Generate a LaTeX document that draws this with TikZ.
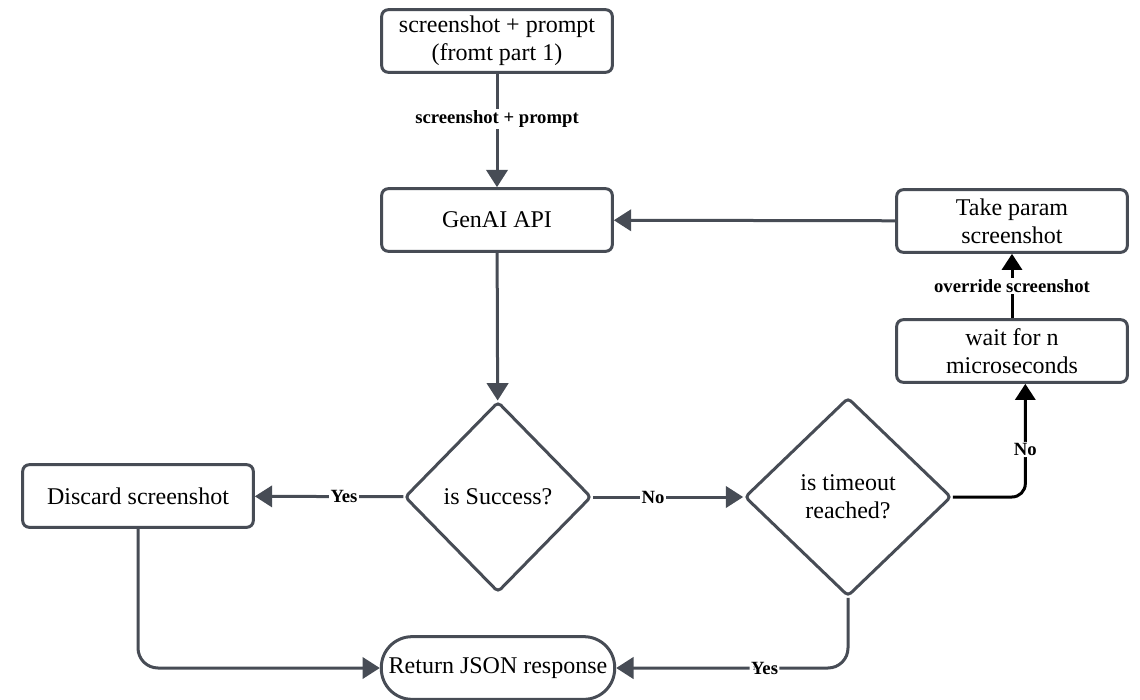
\documentclass[tikz,border=0pt]{standalone}
\usepackage{fontspec}
\setmainfont{Liberation Serif}
\usepackage{tikz}
\usetikzlibrary{arrows.meta,shapes.geometric,positioning}

\definecolor{flowgray}{HTML}{474C55}

\begin{document}
\begin{tikzpicture}[x=0.75pt,y=-0.75pt]
\tikzstyle{every node}=[font=\fontsize{18}{21}\selectfont]
\tikzstyle{proc}=[rectangle,draw=flowgray,line width=2.25pt,rounded corners=5pt,minimum width=173pt,minimum height=47pt,align=center,fill=white]
\tikzstyle{dec}=[diamond,draw=flowgray,line width=2.25pt,rounded corners=3pt,align=center,inner sep=0pt]
\tikzstyle{term}=[rectangle,draw=flowgray,line width=2.25pt,rounded corners=23pt,minimum width=175pt,minimum height=47pt]
\tikzstyle{flow}=[draw=flowgray,line width=2.25pt,-{Triangle[length=13pt,width=16pt]}]
\tikzstyle{flowk}=[draw=black,line width=2.25pt,-{Triangle[length=12pt,width=15pt]}]
\tikzstyle{lbl}=[font=\fontsize{14}{16}\selectfont\bfseries,fill=white,inner sep=1pt,text=black]
\useasboundingbox (0,0) rectangle (1140,700);
\node[proc] (req) at (497,41) {screenshot + prompt\\(fromt part 1)};
\node[proc] (api) at (497,220) {GenAI API};
\node[proc] (take) at (1012,221) {Take param\\screenshot};
\node[proc] (wait) at (1012,351) {wait for n\\microseconds};
\node[dec,minimum width=140pt,minimum height=143pt] (succ) at (498,497) {is Success?};
\node[dec,minimum width=155pt,minimum height=149pt] (tmo) at (848,497) {is timeout\\reached?};
\node[proc] (disc) at (138,496) {Discard screenshot};
\node[term] (ret) at (498,668) {Return JSON response};
% connectors
\draw[flow] (req) -- node[lbl,pos=0.4] {screenshot + prompt} (api);
\draw[flow] (take) -- (api);
\draw[flow] (api) -- (succ);
\draw[flow] (succ) -- node[lbl,pos=0.4] {Yes} (disc);
\draw[flow] (succ) -- node[lbl,pos=0.4] {No} (tmo);
\draw[flowk,rounded corners=10pt] (tmo.east) -| node[lbl,pos=0.71] {No} ([xshift=10pt]wait.south);
\draw[flowk] (wait) -- node[lbl] {override screenshot} (take);
\draw[flow,rounded corners=15pt] (disc) |- (ret);
\draw[flow,rounded corners=15pt] (tmo) |- node[lbl,pos=0.68] {Yes} (ret);
\end{tikzpicture}
\end{document}
